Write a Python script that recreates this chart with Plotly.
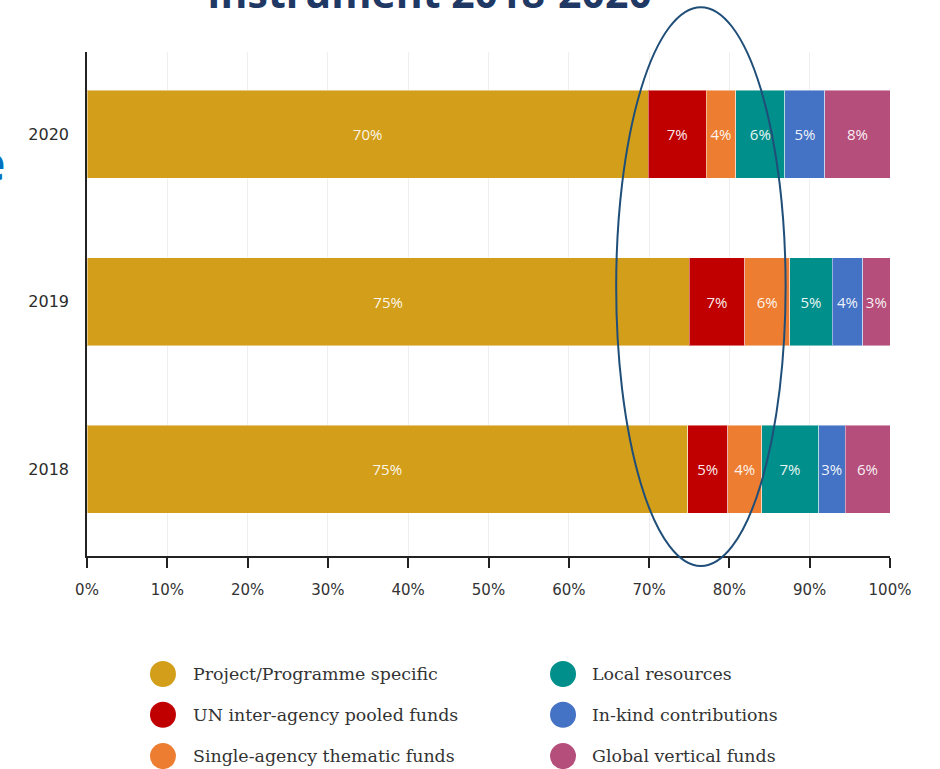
import plotly.graph_objects as go

years = ["2018", "2019", "2020"]
series_names = [
    "Project/Programme specific",
    "UN inter-agency pooled funds",
    "Single-agency thematic funds",
    "Local resources",
    "In-kind contributions",
    "Global vertical funds",
]
project = [74.8, 75.0, 69.9]
un_pooled = [5.0, 6.9, 7.2]
single_agency = [4.2, 5.6, 3.7]
local_res = [7.1, 5.3, 6.1]
in_kind = [3.3, 3.8, 5.0]
global_vertical = [5.6, 3.4, 8.1]
colors = ["#D39E19", "#C00000", "#ED7D31", "#008F8A", "#4472C4", "#B54E7A"]
x_ticks = [0, 10, 20, 30, 40, 50, 60, 70, 80, 90, 100]
x_tick_labels = [f"{v}%" for v in x_ticks]

values = [project, un_pooled, single_agency, local_res, in_kind, global_vertical]

fig = go.Figure()
for name, vals, col in zip(series_names, values, colors):
    fig.add_trace(go.Bar(
        y=years, x=vals, name=name, orientation="h",
        marker=dict(color=col, line=dict(color="rgba(255,255,255,0.45)", width=1)),
        texttemplate="%{x:.0f}%", textposition="inside", insidetextanchor="middle",
        textangle=0,
        textfont=dict(family="Open Sans", size=15, color="rgba(255,255,255,0.93)"),
        showlegend=False,
    ))

shapes = []
# highlight ellipse
shapes.append(dict(type="circle", xref="paper", yref="paper",
                   x0=0.659, x1=0.870, y0=-0.020, y1=1.089,
                   line=dict(color="#1F4E79", width=2), layer="above"))

annotations = []
# custom legend (two columns)
leg_x_marker = [0.0946, 0.0946, 0.0946, 0.5928, 0.5928, 0.5928]
leg_y = [-0.234, -0.315, -0.397, -0.234, -0.315, -0.397]
leg_x_text = [0.1290, 0.1290, 0.1290, 0.6270, 0.6270, 0.6270]
for name, col, xm, ym, xt in zip(series_names, colors, leg_x_marker, leg_y, leg_x_text):
    shapes.append(dict(type="circle", xref="paper", yref="paper",
                       xsizemode="pixel", ysizemode="pixel",
                       xanchor=xm, yanchor=ym, x0=-13, x1=13, y0=-13, y1=13,
                       fillcolor=col, line=dict(color=col, width=0)))
    annotations.append(dict(xref="paper", yref="paper", x=xt, y=ym,
                            xanchor="left", yanchor="middle", showarrow=False,
                            text=name,
                            font=dict(family="DejaVu Serif", size=17.4, color="#333333")))

# cropped title
annotations.append(dict(xref="paper", yref="paper", x=0.427, y=1.0586,
                        xanchor="center", yanchor="bottom", showarrow=False,
                        text="<b>Instrument 2018-2020</b>",
                        font=dict(family="Open Sans", size=41, color="#1F3864")))
# cropped letter at the left edge
annotations.append(dict(xref="paper", yref="paper", x=-0.0996, y=0.78,
                        xanchor="right", yanchor="middle", showarrow=False,
                        text="<b>e</b>",
                        font=dict(family="Open Sans", size=48, color="#0070C0")))

fig.update_layout(
    barmode="stack",
    bargap=0.475,
    width=940, height=769,
    margin=dict(l=87, r=50, t=52, b=213),
    plot_bgcolor="white", paper_bgcolor="white",
    shapes=shapes, annotations=annotations,
    uniformtext=dict(minsize=15, mode="show"),
    xaxis=dict(range=[0, 100], tickvals=x_ticks, ticktext=x_tick_labels,
               showgrid=True, gridcolor="#efefef", gridwidth=1,
               showline=True, linecolor="#222222", linewidth=1.5,
               ticks="outside", ticklen=10, tickcolor="#222222", tickwidth=1.5,
               ticklabelstandoff=9,
               tickfont=dict(family="DejaVu Sans", size=15, color="#333333"),
               zeroline=False, fixedrange=True),
    yaxis=dict(type="category", categoryorder="array", categoryarray=years,
               range=[-0.519, 2.49],
               showgrid=False, showline=True, linecolor="#222222", linewidth=1.5,
               ticks="", ticklabelstandoff=13,
               tickfont=dict(family="DejaVu Sans", size=16, color="#2b2b2b"),
               zeroline=False, fixedrange=True),
)

fig.write_html("out.html", config={"displayModeBar": False},
               post_script="document.body.style.margin='0';document.body.style.overflow='hidden';")
